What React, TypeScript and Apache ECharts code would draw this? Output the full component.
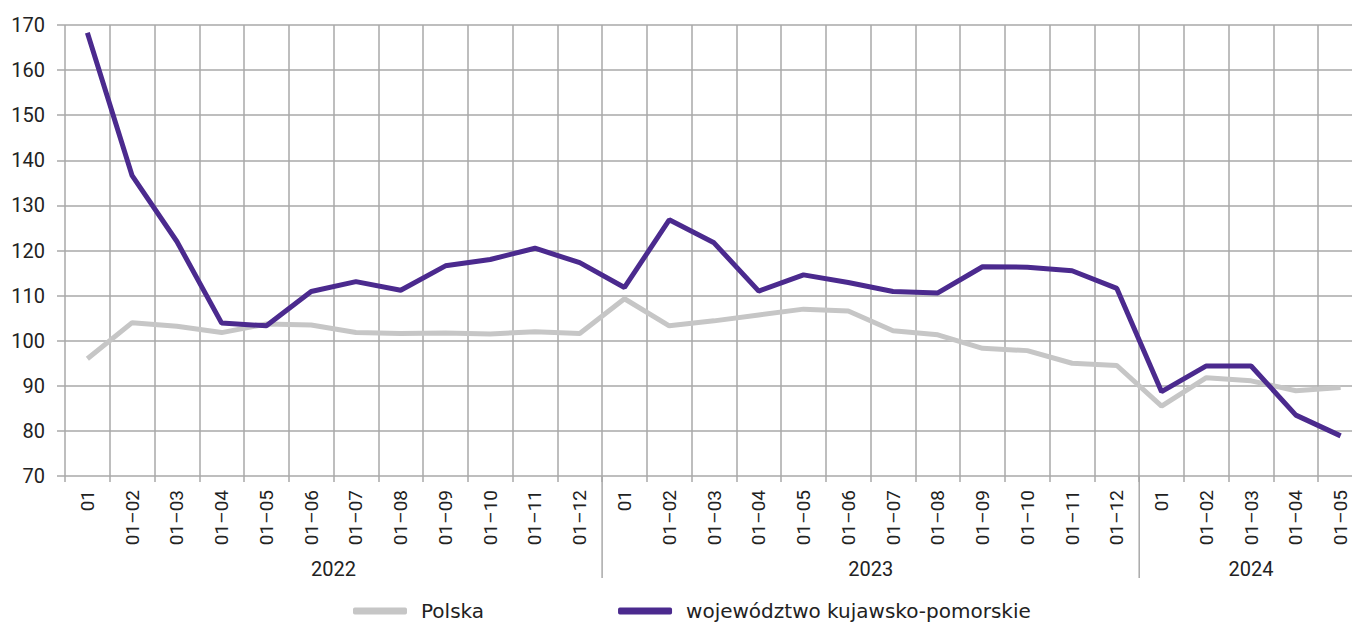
import React, { useEffect, useRef } from "react";
import * as echarts from "echarts";

const categories: string[] = [
  "01", "01–02", "01–03", "01–04", "01–05", "01–06", "01–07", "01–08", "01–09", "01–10", "01–11", "01–12",
  "01", "01–02", "01–03", "01–04", "01–05", "01–06", "01–07", "01–08", "01–09", "01–10", "01–11", "01–12",
  "01", "01–02", "01–03", "01–04", "01–05",
];

const years: string[] = ["2022", "2023", "2024"];
const yearSizes: number[] = [12, 12, 5];

const polska: number[] = [
  96.0, 104.0, 103.2, 101.8, 103.7, 103.5, 101.8, 101.6, 101.7, 101.5, 102.0, 101.6,
  109.3, 103.3, 104.4, 105.7, 107.0, 106.6, 102.2, 101.3, 98.3, 97.8, 95.0, 94.5,
  85.5, 91.8, 91.1, 88.9, 89.6,
];

const kujawsko: number[] = [
  168.3, 136.6, 122.0, 103.9, 103.3, 110.9, 113.1, 111.2, 116.6, 118.0, 120.5, 117.3,
  111.8, 126.8, 121.7, 111.0, 114.6, 112.9, 110.9, 110.6, 116.4, 116.3, 115.5, 111.6,
  88.7, 94.4, 94.4, 83.5, 78.9,
];

const FONT = "Roboto";
const LEGEND_FONT = "DejaVu Sans";
const GRID_COLOR = "#a9a9a9";
const TEXT_COLOR = "#222222";

export default function App() {
  const ref = useRef<HTMLDivElement>(null);

  useEffect(() => {
    if (!ref.current) return;
    const chart = echarts.init(ref.current, null, { renderer: "svg" });
    const option: any = {
      animation: false,
      backgroundColor: "#ffffff",
      textStyle: { fontFamily: FONT },
      grid: { left: 65, top: 25, width: 1298, height: 451, containLabel: false },
      legend: {
        left: 353,
        top: 601,
        padding: 0,
        itemWidth: 54,
        itemHeight: 7,
        itemGap: 134,
        icon: "roundRect",
        textStyle: {
          fontFamily: LEGEND_FONT,
          fontSize: 20,
          lineHeight: 20,
          color: TEXT_COLOR,
          padding: [0, 0, 0, 9],
        },
        data: ["Polska", "województwo kujawsko-pomorskie"],
      },
      xAxis: {
        type: "category",
        data: categories,
        boundaryGap: true,
        axisLine: { show: false },
        axisTick: { show: true, interval: 0, length: 6, lineStyle: { color: GRID_COLOR, width: 1.5 } },
        splitLine: { show: true, interval: 0, lineStyle: { color: GRID_COLOR, width: 1.5 } },
        axisLabel: {
          interval: 0,
          rotate: 90,
          margin: 14,
          fontFamily: FONT,
          fontSize: 19,
          color: TEXT_COLOR,
        },
      },
      yAxis: {
        type: "value",
        min: 70,
        max: 170,
        interval: 10,
        axisLine: { show: false },
        axisTick: { show: true, length: 8, lineStyle: { color: GRID_COLOR, width: 1.5 } },
        splitLine: { show: true, lineStyle: { color: GRID_COLOR, width: 1.5 } },
        axisLabel: { margin: 20, fontFamily: FONT, fontSize: 20, color: TEXT_COLOR },
      },
      series: [
        {
          name: "Polska",
          type: "line",
          data: polska,
          symbol: "none",
          z: 2,
          itemStyle: { color: "#c6c6c6" },
          lineStyle: { color: "#c6c6c6", width: 5 },
        },
        {
          name: "województwo kujawsko-pomorskie",
          type: "line",
          data: kujawsko,
          symbol: "none",
          z: 3,
          itemStyle: { color: "#4b2a8e" },
          lineStyle: { color: "#4b2a8e", width: 5 },
        },
      ],
    };
    chart.setOption(option);

    // Year group separators and labels, positioned through the axis scale
    const c0 = chart.convertToPixel({ xAxisIndex: 0 }, 0) as number;
    const c1 = chart.convertToPixel({ xAxisIndex: 0 }, 1) as number;
    const step = c1 - c0;
    const y0 = chart.convertToPixel({ yAxisIndex: 0 }, 70) as number;
    const graphics: any[] = [];
    let start = 0;
    years.forEach((yr, i) => {
      const n = yearSizes[i];
      const left = c0 - step / 2 + start * step;
      const center = left + (n * step) / 2;
      graphics.push({
        type: "text",
        x: center,
        y: y0 + 93,
        style: {
          text: yr,
          fontFamily: FONT,
          fontSize: 20,
          fill: TEXT_COLOR,
          textAlign: "center",
          textVerticalAlign: "middle",
        },
      });
      if (i > 0) {
        graphics.push({
          type: "line",
          shape: { x1: left, y1: y0, x2: left, y2: y0 + 102 },
          style: { stroke: GRID_COLOR, lineWidth: 1.5 },
        });
      }
      start += n;
    });
    chart.setOption({ graphic: graphics });

    return () => chart.dispose();
  }, []);

  return (
    <div
      style={{
        position: "fixed",
        left: 0,
        top: 0,
        width: 1352,
        height: 625,
        overflow: "hidden",
        background: "#ffffff",
      }}
    >
      <div ref={ref} style={{ width: 1380, height: 625 }} />
    </div>
  );
}
